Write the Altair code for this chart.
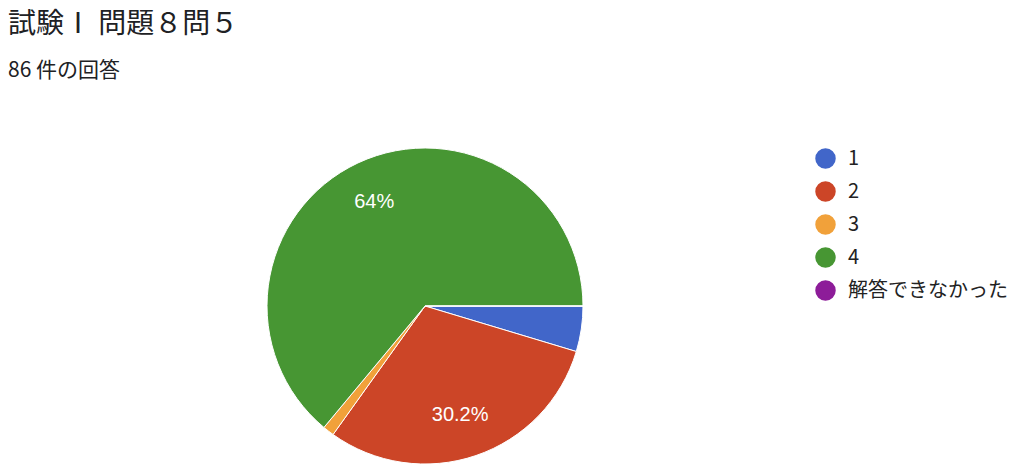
import math
import altair as alt
import pandas as pd

categories = ["1", "2", "3", "4", "解答できなかった"]
counts = [4, 26, 1, 55, 0]
colors = ["#4166c9", "#cc4527", "#f1a13a", "#479633", "#8d1c99"]
title_text = "試験Ⅰ 問題８問５"
subtitle_text = "86 件の回答"

total = sum(counts)
labels = []
for c in counts:
    p = round(c / total * 100, 1)
    labels.append(f"{p:g}%" if p >= 5 else "")

df = pd.DataFrame({
    "answer": categories,
    "count": counts,
    "order": list(range(len(categories))),
    "label": labels,
})

CX, CY, R = 417, 222, 158

base = alt.Chart(df).encode(
    theta=alt.Theta("count:Q", stack=True,
                    scale=alt.Scale(range=[math.pi / 2, math.pi / 2 + 2 * math.pi])),
    order=alt.Order("order:Q", sort="ascending"),
)

arcs = base.mark_arc(x=CX, y=CY, outerRadius=R, stroke="white", strokeWidth=1).encode(
    color=alt.Color(
        "answer:N",
        scale=alt.Scale(domain=categories, range=colors),
        legend=alt.Legend(
            title=None, orient="none", legendX=807, legendY=64,
            symbolType="circle", symbolSize=420, symbolStrokeWidth=0,
            symbolOpacity=1, labelFontSize=20, labelFont="Noto Sans CJK JP",
            labelColor="#222222", rowPadding=12, labelOffset=12, padding=0,
        ),
    ),
)

texts = base.mark_text(
    x=CX - 2, y=CY, radius=115, color="white", fontSize=20,
    font="Liberation Sans", align="center", baseline="middle",
).encode(text="label:N")

chart = alt.layer(arcs, texts).properties(
    width=1008,
    height=375,
    padding={"left": 0, "top": 3, "right": 0, "bottom": 0},
    title=alt.TitleParams(
        text=title_text,
        subtitle=subtitle_text,
        anchor="start",
        font="Noto Sans CJK JP",
        fontSize=28,
        fontWeight="normal",
        color="#202124",
        subtitleFont="Noto Sans CJK JP",
        subtitleFontSize=21,
        subtitleColor="#202124",
        subtitlePadding=21,
        offset=3,
    ),
).configure_view(stroke=None)

chart.save("out.html", embed_options={"renderer": "svg", "actions": False})
